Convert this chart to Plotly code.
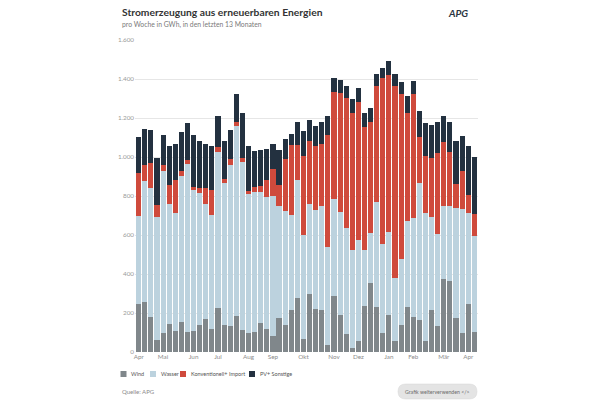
import plotly.graph_objects as go

# ---------------- data ----------------
weeks = list(range(56))
wind = [246,255,182,63,97,144,110,156,105,110,
        136,170,119,226,136,133,184,114,100,102,
        150,119,80,175,139,213,277,68,298,221,
        216,37,289,190,94,22,56,238,354,233,
        99,190,56,139,230,182,165,56,216,133,
        374,366,175,97,246,102]
wasser = [451,624,659,629,829,616,604,745,859,721,
          680,590,583,799,731,827,975,860,708,719,
          669,677,719,573,584,489,607,530,462,508,
          532,504,498,527,544,502,519,284,258,535,
          453,425,323,337,441,507,702,658,476,474,
          374,385,565,634,468,493]
konv = [221,78,128,64,31,95,170,25,22,17,
        26,82,131,26,22,29,19,21,17,24,
        31,86,139,110,268,361,179,408,323,330,
        320,573,544,609,666,700,709,634,566,597,
        854,805,986,845,553,634,235,289,303,416,
        328,274,124,196,90,111]
pv = [187,185,170,238,156,204,185,201,190,265,
      238,227,224,161,194,150,145,232,232,187,
      187,160,127,179,100,54,119,125,107,100,
      114,96,75,71,61,73,71,68,75,63,
      53,70,60,65,88,66,134,173,170,159,
      134,157,216,183,250,292]
series_names = ["Wind", "Wasser", "Konventionell+ Import", "PV+ Sonstige"]
month_labels = ["Apr","Mai","Jun","Jul","Aug","Sep","Okt","Nov","Dez","Jan","Feb","Mär","Apr"]
month_first_week = [0,4,9,13,18,22,27,32,36,41,45,50,54]
y_ticks = [0,200,400,600,800,1000,1200,1400,1600]

colors = ["#80878b", "#bcd2de", "#cf4a3c", "#233140"]
FONT = "Lato"

# ---------------- layout geometry (pixels) ----------------
W, H = 600, 400
L, R, T, B = 135, 122, 40, 48
PW, PH = W - L - R, H - T - B

def px(x):
    return (x - L) / PW

def py(y):
    return (H - B - y) / PH

fig = go.Figure()
for name, vals, col in zip(series_names, [wind, wasser, konv, pv], colors):
    fig.add_trace(go.Bar(x=weeks, y=vals, name=name, marker_color=col,
                         marker_line_width=0, showlegend=False))

fig.update_layout(
    barmode="stack",
    bargap=0.16,
    width=W, height=H,
    margin=dict(l=L, r=R, t=T, b=B, pad=0),
    paper_bgcolor="white",
    plot_bgcolor="white",
    separators=",.",
    font=dict(family=FONT, color="#8a8a8a", size=7),
)
fig.update_xaxes(
    range=[-0.6, 55.6],
    tickmode="array", tickvals=month_first_week, ticktext=month_labels,
    showgrid=False, zeroline=False, showline=False, ticks="",
    tickfont=dict(size=6.3, color="#8d8d8d", family=FONT),
    fixedrange=True,
)
fig.update_yaxes(
    range=[0, 1600],
    tickmode="array", tickvals=y_ticks, tickformat=",d",
    showgrid=True, gridcolor="#e6e6e6", gridwidth=1,
    zeroline=False, showline=False, ticks="",
    tickfont=dict(size=6.3, color="#9a9a9a", family=FONT),
    fixedrange=True,
)

ann = []
shapes = []
# titles
ann.append(dict(text="<b>Stromerzeugung aus erneuerbaren Energien</b>", x=px(120), y=py(11.5),
                xref="paper", yref="paper", xanchor="left", yanchor="middle", showarrow=False,
                font=dict(size=10.3, color="#333333", family=FONT)))
ann.append(dict(text="pro Woche in GWh, in den letzten 13 Monaten", x=px(120), y=py(25),
                xref="paper", yref="paper", xanchor="left", yanchor="middle", showarrow=False,
                font=dict(size=6.8, color="#7a7a7a", family=FONT)))
# logo text
ann.append(dict(text="<b><i>APG</i></b>", x=px(470), y=py(13),
                xref="paper", yref="paper", xanchor="right", yanchor="middle", showarrow=False,
                font=dict(size=10, color="#2a3440", family=FONT)))
# legend (manual)
leg_x = [120.5, 150, 180, 249]
for name, col, lx in zip(series_names, colors, leg_x):
    shapes.append(dict(type="rect", xref="paper", yref="paper",
                       x0=px(lx), x1=px(lx + 6), y0=py(377), y1=py(371),
                       fillcolor=col, line_width=0))
    ann.append(dict(text=name, x=px(lx + 8.5), y=py(374), xref="paper", yref="paper",
                    xanchor="left", yanchor="middle", showarrow=False,
                    font=dict(size=5.5, color="#555555", family=FONT)))
# source
ann.append(dict(text="Quelle: APG", x=px(120), y=py(391.5), xref="paper", yref="paper",
                xanchor="left", yanchor="middle", showarrow=False,
                font=dict(size=6, color="#8a8a8a", family=FONT)))
# button (pill)
bx0, bx1, by0, by1, r = 398, 477, 384, 399, 7.5
def P(x, y):
    return f"{px(x)},{py(y)}"
path = (f"M {P(bx0 + r, by0)} L {P(bx1 - r, by0)} Q {P(bx1, by0)} {P(bx1, by0 + r)} "
        f"Q {P(bx1, by1)} {P(bx1 - r, by1)} L {P(bx0 + r, by1)} Q {P(bx0, by1)} {P(bx0, by1 - r)} "
        f"Q {P(bx0, by0)} {P(bx0 + r, by0)} Z")
shapes.append(dict(type="path", xref="paper", yref="paper", path=path,
                   fillcolor="#e4e4e4", line=dict(color="#d6d6d6", width=0.5)))
ann.append(dict(text="Grafik weiterverwenden &lt;/&gt;", x=px((bx0 + bx1) / 2), y=py(391.5),
                xref="paper", yref="paper", xanchor="center", yanchor="middle", showarrow=False,
                font=dict(size=5.2, color="#6a6a6a", family=FONT)))

fig.update_layout(annotations=ann, shapes=shapes)
fig.write_html("out.html")
